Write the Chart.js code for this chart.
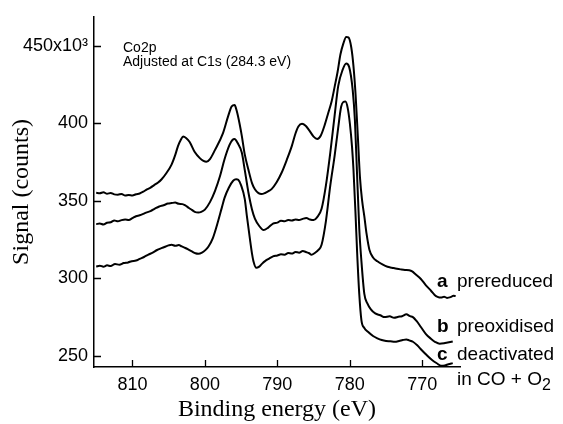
<!DOCTYPE html>
<html>
<head>
<meta charset="utf-8">
<title>Co2p XPS spectra</title>
<script src="https://cdn.jsdelivr.net/npm/chart.js@4.4.1/dist/chart.umd.min.js"></script>
<style>
  html, body { margin: 0; padding: 0; background: #fff; }
  #wrap { width: 563px; height: 424px; }
</style>
</head>
<body>
<div id="wrap"><canvas id="xpsChart" width="563" height="424"></canvas></div>
<script>
// binding energy (eV) and signal (x10^3 counts) for each sample
const energyA = [815.0, 814.5, 814.0, 813.5, 813.0, 812.5, 812.0, 811.5, 811.0, 810.5, 810.0, 809.5, 809.0, 808.5, 808.0, 807.5, 807.0, 806.5, 806.0, 805.3, 804.6, 804.1, 803.7, 803.3, 803.0, 802.6, 802.1, 801.4, 800.7, 800.2, 799.8, 799.3, 798.6, 797.5, 796.8, 796.3, 795.9, 795.6, 795.2, 794.9, 794.5, 794.0, 793.5, 793.1, 792.6, 792.2, 791.7, 791.2, 790.8, 790.1, 789.4, 788.7, 788.0, 787.5, 787.1, 786.6, 786.1, 785.6, 785.0, 784.5, 784.0, 783.5, 783.0, 782.5, 782.1, 781.7, 781.3, 780.9, 780.5, 780.2, 779.8, 779.5, 779.2, 778.9, 778.6, 778.3, 778.0, 777.7, 777.3, 776.8, 776.2, 775.5, 774.8, 774.2, 773.5, 773.0, 772.4, 771.8, 771.4, 770.9, 770.2, 769.5, 768.8, 768.3, 767.9, 767.4, 767.0, 766.6, 766.1, 765.7, 765.4];
const signalA = [355.2, 354.9, 355.6, 354.6, 355.1, 354.2, 354.0, 354.5, 353.4, 353.8, 353.5, 354.3, 354.8, 355.9, 357.4, 358.6, 360.2, 361.7, 363.8, 368.0, 373.4, 379.5, 385.5, 389.6, 391.5, 390.6, 388.0, 381.5, 377.6, 375.8, 375.2, 377.0, 382.9, 393.7, 404.5, 411.0, 411.8, 408.0, 399.5, 391.8, 380.0, 370.2, 361.5, 357.5, 355.0, 354.4, 355.1, 356.4, 357.6, 362.0, 368.3, 376.5, 385.5, 393.5, 398.0, 399.8, 398.5, 395.5, 391.5, 390.0, 392.2, 398.5, 406.4, 414.5, 423.6, 433.0, 444.5, 451.5, 455.8, 455.5, 449.0, 437.0, 418.0, 392.0, 365.0, 350.0, 340.0, 329.0, 318.5, 313.5, 311.0, 309.0, 307.5, 306.9, 306.2, 305.8, 305.4, 305.2, 304.5, 302.5, 299.6, 295.5, 292.0, 289.3, 288.1, 287.6, 288.2, 287.4, 287.9, 288.8, 288.6];

const energyB = [815.0, 814.5, 814.0, 813.5, 813.0, 812.5, 812.0, 811.5, 811.0, 810.5, 810.0, 809.5, 809.0, 808.5, 808.0, 807.5, 806.9, 806.3, 805.7, 805.1, 804.6, 804.1, 803.6, 803.1, 802.7, 802.2, 801.8, 801.4, 800.9, 800.5, 800.0, 799.3, 798.6, 797.9, 797.3, 796.6, 796.2, 795.9, 795.5, 794.9, 794.5, 794.0, 793.5, 793.1, 792.5, 791.9, 791.3, 790.6, 790.0, 789.5, 789.0, 788.5, 788.0, 787.5, 787.0, 786.5, 786.0, 785.5, 785.0, 784.5, 783.9, 783.3, 782.7, 782.1, 781.6, 781.0, 780.5, 780.1, 779.6, 779.3, 779.1, 778.7, 778.4, 778.0, 777.6, 777.1, 776.5, 775.8, 775.2, 774.5, 773.9, 773.3, 772.8, 772.2, 771.7, 771.3, 770.8, 770.2, 769.5, 768.8, 768.2, 767.6, 767.0, 766.5, 765.8];
const signalB = [335.0, 335.4, 334.8, 335.9, 336.2, 337.4, 336.8, 337.6, 338.0, 337.7, 338.9, 340.1, 340.7, 341.6, 342.6, 343.4, 345.0, 346.4, 347.2, 348.3, 348.6, 348.9, 348.1, 347.9, 347.1, 345.4, 344.2, 342.9, 342.5, 342.9, 344.4, 349.2, 356.5, 366.2, 376.7, 386.1, 389.3, 389.9, 387.5, 381.0, 370.0, 355.6, 344.5, 338.6, 333.8, 331.2, 332.6, 335.4, 336.0, 337.2, 336.8, 337.6, 337.3, 338.0, 337.6, 338.4, 338.9, 338.0, 337.6, 339.5, 344.9, 360.0, 381.0, 405.0, 424.2, 434.5, 438.6, 436.5, 421.3, 402.0, 378.9, 332.2, 311.0, 290.0, 284.0, 280.0, 277.4, 276.2, 275.0, 275.5, 274.6, 275.2, 275.6, 276.8, 275.6, 275.0, 272.5, 268.6, 264.0, 261.0, 258.9, 257.8, 258.1, 258.6, 259.3];

const energyC = [815.0, 814.5, 814.0, 813.5, 813.0, 812.4, 811.8, 811.2, 810.6, 810.1, 809.5, 809.0, 808.4, 807.8, 807.2, 806.6, 806.0, 805.4, 805.0, 804.6, 804.1, 803.6, 803.2, 802.7, 802.2, 801.8, 801.3, 800.9, 800.4, 799.9, 799.5, 798.9, 798.2, 797.7, 797.3, 796.7, 796.1, 795.7, 795.4, 795.0, 794.5, 794.2, 793.8, 793.5, 793.3, 792.9, 792.5, 792.1, 791.7, 791.2, 790.6, 790.0, 789.5, 789.0, 788.5, 788.0, 787.5, 787.0, 786.5, 786.0, 785.6, 785.3, 784.8, 784.3, 783.9, 783.3, 782.7, 782.1, 781.6, 781.2, 780.9, 780.6, 780.3, 780.0, 779.7, 779.5, 779.2, 779.0, 778.7, 778.4, 778.0, 777.5, 776.8, 776.2, 775.6, 775.0, 774.4, 773.8, 773.2, 772.7, 772.2, 771.8, 771.3, 770.7, 770.1, 769.4, 768.7, 768.0, 767.4, 766.9, 766.4, 765.8];
const signalC = [307.6, 308.2, 307.5, 308.4, 308.0, 309.3, 308.8, 309.9, 310.3, 311.1, 311.5, 312.6, 313.8, 315.3, 316.6, 318.3, 319.5, 320.6, 321.3, 321.7, 321.0, 321.5, 320.6, 319.6, 318.4, 317.4, 316.2, 315.9, 316.6, 318.4, 320.6, 326.0, 336.5, 345.0, 351.8, 358.5, 363.0, 364.0, 363.6, 360.0, 351.3, 340.0, 325.9, 316.0, 311.1, 306.8, 307.6, 309.5, 311.1, 312.6, 314.2, 314.8, 315.5, 315.3, 316.3, 316.0, 317.0, 316.6, 317.6, 316.9, 316.2, 315.3, 316.5, 318.5, 321.7, 337.0, 359.8, 379.1, 397.5, 410.7, 413.8, 414.1, 410.0, 400.1, 385.0, 370.4, 340.0, 317.4, 290.0, 272.9, 268.0, 265.5, 262.8, 261.3, 260.2, 259.6, 259.4, 259.1, 259.6, 260.2, 260.6, 260.0, 259.1, 256.8, 253.8, 250.5, 247.5, 245.2, 243.6, 243.8, 244.6, 245.3];

const xTicks = [810, 800, 790, 780, 770];
const yTicks = [250, 300, 350, 400, 450];

const sampleLetters = ["a", "b", "c"];
const sampleNames = ["prereduced", "preoxidised", "deactivated"];

function toPoints(xs, ys) {
  return xs.map((x, i) => ({ x: x, y: ys[i] }));
}

function spectrum(xs, ys) {
  return {
    data: toPoints(xs, ys),
    borderColor: "#000",
    borderWidth: 2,
    pointRadius: 0,
    fill: false,
    cubicInterpolationMode: "monotone"
  };
}

const SANS = "'Liberation Sans', Arial, Helvetica, sans-serif";
const SERIF = "'Liberation Serif', 'Times New Roman', serif";

// short inward tick marks on both axes
const innerTicks = {
  id: "innerTicks",
  afterDraw(chart) {
    const { ctx, chartArea, scales } = chart;
    ctx.save();
    ctx.strokeStyle = "#000";
    ctx.lineWidth = 1.3;
    ctx.beginPath();
    xTicks.forEach(v => {
      const px = Math.round(scales.x.getPixelForValue(v)) + 0.5;
      ctx.moveTo(px, chartArea.bottom);
      ctx.lineTo(px, chartArea.bottom - 7);
    });
    yTicks.forEach(v => {
      const py = Math.round(scales.y.getPixelForValue(v)) + 0.5;
      ctx.moveTo(chartArea.left, py);
      ctx.lineTo(chartArea.left + 7, py);
    });
    ctx.stroke();
    ctx.restore();
  }
};

// header note and the curve labels at the right
const textNotes = {
  id: "textNotes",
  afterDraw(chart) {
    const { ctx, chartArea } = chart;
    ctx.save();
    ctx.fillStyle = "#000";
    ctx.textBaseline = "middle";
    ctx.textAlign = "left";

    ctx.font = "14px " + SANS;
    ctx.fillText("Co2p", chartArea.left + 29, 48);
    ctx.fillText("Adjusted at C1s (284.3 eV)", chartArea.left + 29, 62);

    const rows = [282, 327, 355];
    const letterX = chartArea.right - 23;
    const nameX = chartArea.right - 3;
    sampleLetters.forEach((l, i) => {
      ctx.font = "bold 19px " + SANS;
      ctx.fillText(l, letterX, rows[i]);
      ctx.font = "19px " + SANS;
      ctx.fillText(sampleNames[i], nameX, rows[i]);
    });

    ctx.font = "19px " + SANS;
    const line = "in CO + O";
    ctx.fillText(line, nameX, 380);
    const w = ctx.measureText(line).width;
    ctx.font = "16px " + SANS;
    ctx.fillText("2", nameX + w, 386);
    ctx.restore();
  }
};

new Chart(document.getElementById("xpsChart"), {
  type: "line",
  data: {
    datasets: [
      spectrum(energyA, signalA),
      spectrum(energyB, signalB),
      spectrum(energyC, signalC)
    ]
  },
  options: {
    responsive: false,
    devicePixelRatio: 1,
    animation: false,
    layout: { padding: { top: 12, right: 103, left: 0, bottom: 0 } },
    plugins: {
      legend: { display: false },
      tooltip: { enabled: false }
    },
    scales: {
      x: {
        type: "linear",
        reverse: true,
        min: 764.8,
        max: 815.3,
        grid: { display: false, drawTicks: false },
        border: { display: true, color: "#000", width: 1.5 },
        afterBuildTicks: axis => { axis.ticks = xTicks.map(v => ({ value: v })); },
        afterFit: axis => { axis.height = 57; },
        ticks: {
          padding: 7,
          color: "#000",
          font: { family: SANS, size: 18 },
          maxRotation: 0
        },
        title: {
          display: true,
          text: "Binding energy (eV)",
          color: "#000",
          font: { family: SERIF, size: 24 },
          padding: { top: 0, bottom: 0 }
        }
      },
      y: {
        type: "linear",
        min: 242.8,
        max: 468.8,
        grid: { display: false, drawTicks: false },
        border: { display: true, color: "#000", width: 1.5 },
        afterBuildTicks: axis => { axis.ticks = yTicks.map(v => ({ value: v })); },
        afterFit: axis => { axis.width = 94; },
        ticks: {
          padding: 6,
          color: "#000",
          font: { family: SANS, size: 18 },
          callback: v => (v === 450 ? "450x10\u00b3" : v)
        },
        title: {
          display: true,
          text: "Signal (counts)",
          color: "#000",
          font: { family: SERIF, size: 24 },
          padding: { top: 7, bottom: 0 }
        }
      }
    }
  },
  plugins: [innerTicks, textNotes]
});
</script>
</body>
</html>
